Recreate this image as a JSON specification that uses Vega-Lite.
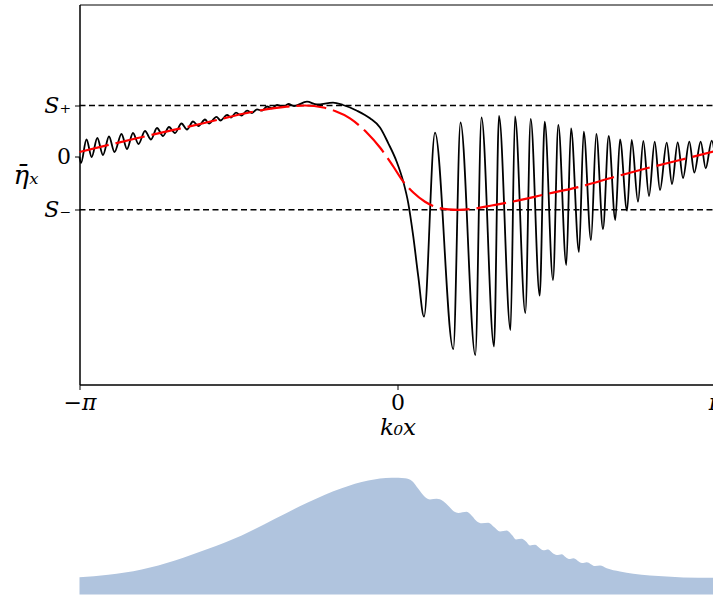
{
  "$schema": "https://vega.github.io/schema/vega-lite/v6.json",
  "autosize": {"type": "none"},
  "padding": {"left": 79.5, "top": 4.5, "right": 634, "bottom": 595},
  "bounds": "flush",
  "spacing": 60,
  "config": {
    "font": "DejaVu Serif",
    "view": {"stroke": null},
    "axis": {
      "grid": false,
      "domainColor": "black",
      "domainWidth": 1,
      "tickColor": "black",
      "tickWidth": 1,
      "tickSize": 5,
      "labelColor": "black",
      "titleColor": "black",
      "labelFont": "DejaVu Serif",
      "titleFont": "DejaVu Serif",
      "labelFontSize": 22,
      "titleFontSize": 23,
      "titleFontWeight": "normal"
    }
  },
  "datasets": {
    "levels": [
      {"level": "S+", "k0x": -3.1415926, "eta": 5.05},
      {"level": "S+", "k0x": 3.1415926, "eta": 5.05},
      {"level": "S-", "k0x": -3.1415926, "eta": -5.38},
      {"level": "S-", "k0x": 3.1415926, "eta": -5.38}
    ],
    "wave": [
      {"k0x": -3.1416, "eta": -0.1}, {"k0x": -3.1268, "eta": -0.7}, {"k0x": -3.0725, "eta": 1.65}, {"k0x": -3.0211, "eta": -0.1},
      {"k0x": -2.9658, "eta": 1.8}, {"k0x": -2.9095, "eta": 0.1}, {"k0x": -2.8502, "eta": 1.95}, {"k0x": -2.7959, "eta": 0.4},
      {"k0x": -2.7267, "eta": 2.2}, {"k0x": -2.6724, "eta": 0.7}, {"k0x": -2.6131, "eta": 2.3}, {"k0x": -2.5588, "eta": 1.2},
      {"k0x": -2.4945, "eta": 2.5}, {"k0x": -2.4353, "eta": 1.65}, {"k0x": -2.376, "eta": 2.8}, {"k0x": -2.3167, "eta": 2.0},
      {"k0x": -2.2574, "eta": 2.9}, {"k0x": -2.1982, "eta": 2.3}, {"k0x": -2.134, "eta": 3.25}, {"k0x": -2.0796, "eta": 2.65},
      {"k0x": -2.0202, "eta": 3.45}, {"k0x": -1.966, "eta": 3.0}, {"k0x": -1.9018, "eta": 3.65}, {"k0x": -1.8623, "eta": 3.25},
      {"k0x": -1.7882, "eta": 3.92}, {"k0x": -1.7487, "eta": 3.55}, {"k0x": -1.6844, "eta": 4.1}, {"k0x": -1.6449, "eta": 3.85},
      {"k0x": -1.5955, "eta": 4.33}, {"k0x": -1.5412, "eta": 4.05}, {"k0x": -1.4868, "eta": 4.53}, {"k0x": -1.4375, "eta": 4.3},
      {"k0x": -1.3881, "eta": 4.67}, {"k0x": -1.3387, "eta": 4.53}, {"k0x": -1.2893, "eta": 4.95}, {"k0x": -1.2399, "eta": 4.77},
      {"k0x": -1.1905, "eta": 5.1}, {"k0x": -1.1312, "eta": 4.93}, {"k0x": -1.0769, "eta": 5.2}, {"k0x": -1.0225, "eta": 5.0},
      {"k0x": -0.8941, "eta": 5.43}, {"k0x": -0.7953, "eta": 5.15}, {"k0x": -0.6372, "eta": 5.33}, {"k0x": -0.5384, "eta": 5.1},
      {"k0x": -0.4001, "eta": 4.53}, {"k0x": -0.2717, "eta": 3.77}, {"k0x": -0.1729, "eta": 2.85}, {"k0x": -0.0909, "eta": 1.27},
      {"k0x": -0.0079, "eta": -0.57}, {"k0x": 0.0573, "eta": -2.57}, {"k0x": 0.1067, "eta": -4.73}, {"k0x": 0.1561, "eta": -8.07},
      {"k0x": 0.2055, "eta": -12.07}, {"k0x": 0.2618, "eta": -16.07}, {"k0x": 0.3705, "eta": 2.33}, {"k0x": 0.5513, "eta": -19.32},
      {"k0x": 0.6224, "eta": 3.35}, {"k0x": 0.7686, "eta": -19.9}, {"k0x": 0.8299, "eta": 3.85}, {"k0x": 0.9534, "eta": -19.05},
      {"k0x": 1.0028, "eta": 4.0}, {"k0x": 1.1164, "eta": -17.4}, {"k0x": 1.1608, "eta": 3.95}, {"k0x": 1.2626, "eta": -15.7},
      {"k0x": 1.3159, "eta": 3.7}, {"k0x": 1.4049, "eta": -13.97}, {"k0x": 1.4543, "eta": 3.43}, {"k0x": 1.5362, "eta": -12.4},
      {"k0x": 1.5886, "eta": 3.1}, {"k0x": 1.6676, "eta": -10.9}, {"k0x": 1.7141, "eta": 2.77}, {"k0x": 1.7931, "eta": -9.6},
      {"k0x": 1.8395, "eta": 2.43}, {"k0x": 1.9117, "eta": -8.4}, {"k0x": 1.964, "eta": 2.2}, {"k0x": 2.0302, "eta": -7.3},
      {"k0x": 2.0865, "eta": 2.0}, {"k0x": 2.1517, "eta": -6.4}, {"k0x": 2.1982, "eta": 1.67}, {"k0x": 2.2673, "eta": -5.47},
      {"k0x": 2.3138, "eta": 1.6}, {"k0x": 2.376, "eta": -4.57}, {"k0x": 2.4284, "eta": 1.5}, {"k0x": 2.4847, "eta": -4.0},
      {"k0x": 2.541, "eta": 1.43}, {"k0x": 2.5933, "eta": -3.4}, {"k0x": 2.6595, "eta": 1.33}, {"k0x": 2.7119, "eta": -2.8},
      {"k0x": 2.7682, "eta": 1.37}, {"k0x": 2.8206, "eta": -2.2}, {"k0x": 2.8828, "eta": 1.43}, {"k0x": 2.9322, "eta": -1.67},
      {"k0x": 2.9954, "eta": 1.43}, {"k0x": 3.0448, "eta": -1.23}, {"k0x": 3.1041, "eta": 1.53}, {"k0x": 3.1416, "eta": -0.4}
    ],
    "mean": [
      {"k0x": -3.1416, "eta": 0.4}, {"k0x": -2.5766, "eta": 1.77}, {"k0x": -1.9186, "eta": 3.27}, {"k0x": -1.4246, "eta": 4.43},
      {"k0x": -1.0946, "eta": 4.93}, {"k0x": -0.9138, "eta": 5.05}, {"k0x": -0.7331, "eta": 4.85}, {"k0x": -0.6175, "eta": 4.5},
      {"k0x": -0.4693, "eta": 3.77}, {"k0x": -0.3043, "eta": 2.35}, {"k0x": -0.1729, "eta": 0.85}, {"k0x": -0.0415, "eta": -1.05},
      {"k0x": 0.0573, "eta": -2.57}, {"k0x": 0.1561, "eta": -3.65}, {"k0x": 0.2717, "eta": -4.57}, {"k0x": 0.3705, "eta": -5.07},
      {"k0x": 0.5019, "eta": -5.33}, {"k0x": 0.6007, "eta": -5.38}, {"k0x": 0.7331, "eta": -5.3}, {"k0x": 0.9306, "eta": -4.95},
      {"k0x": 1.144, "eta": -4.55}, {"k0x": 1.474, "eta": -3.8}, {"k0x": 1.803, "eta": -3.07}, {"k0x": 2.132, "eta": -2.13},
      {"k0x": 2.4619, "eta": -1.23}, {"k0x": 2.7909, "eta": -0.4}, {"k0x": 3.1416, "eta": 0.5}
    ],
    "envelope": [
      {"k0x": -3.1416, "amp": 1.73}, {"k0x": -2.8571, "amp": 1.97}, {"k0x": -2.5272, "amp": 2.5}, {"k0x": -2.1982, "amp": 3.4},
      {"k0x": -1.8692, "amp": 4.57}, {"k0x": -1.5392, "amp": 5.9}, {"k0x": -1.2102, "amp": 7.57}, {"k0x": -0.8812, "amp": 9.23},
      {"k0x": -0.5513, "amp": 10.63}, {"k0x": -0.2885, "amp": 11.4}, {"k0x": -0.0573, "amp": 11.67}, {"k0x": 0.0741, "amp": 11.63},
      {"k0x": 0.1433, "amp": 11.35}, {"k0x": 0.2055, "amp": 10.57}, {"k0x": 0.2717, "amp": 9.75}, {"k0x": 0.3211, "amp": 9.5},
      {"k0x": 0.3873, "amp": 9.57}, {"k0x": 0.4495, "amp": 9.35}, {"k0x": 0.5088, "amp": 8.8}, {"k0x": 0.5582, "amp": 8.3},
      {"k0x": 0.6007, "amp": 8.15}, {"k0x": 0.6837, "amp": 8.27}, {"k0x": 0.736, "amp": 7.85}, {"k0x": 0.7854, "amp": 7.3},
      {"k0x": 0.8318, "amp": 7.12}, {"k0x": 0.897, "amp": 7.17}, {"k0x": 0.9534, "amp": 6.75}, {"k0x": 1.0126, "amp": 6.3},
      {"k0x": 1.0788, "amp": 6.4}, {"k0x": 1.1312, "amp": 5.95}, {"k0x": 1.1707, "amp": 5.5},  {"k0x": 1.227, "amp": 5.57},
      {"k0x": 1.2695, "amp": 5.3}, {"k0x": 1.309, "amp": 4.9}, {"k0x": 1.3584, "amp": 4.97}, {"k0x": 1.4029, "amp": 4.65},
      {"k0x": 1.4404, "amp": 4.42}, {"k0x": 1.4898, "amp": 4.5}, {"k0x": 1.5313, "amp": 4.15}, {"k0x": 1.5728, "amp": 3.95},
      {"k0x": 1.6222, "amp": 4.03}, {"k0x": 1.6597, "amp": 3.75}, {"k0x": 1.6943, "amp": 3.55}, {"k0x": 1.7368, "amp": 3.63},
      {"k0x": 1.8227, "amp": 3.15}, {"k0x": 1.8692, "amp": 3.23}, {"k0x": 1.9512, "amp": 2.85}, {"k0x": 2.0006, "amp": 2.9},
      {"k0x": 2.0667, "amp": 2.63}, {"k0x": 2.1982, "amp": 2.3}, {"k0x": 2.3295, "amp": 2.07}, {"k0x": 2.4945, "amp": 1.9},
      {"k0x": 2.6595, "amp": 1.8}, {"k0x": 2.8235, "amp": 1.7}, {"k0x": 3.1416, "amp": 1.67}
    ]
  },
  "vconcat": [
    {
      "width": 636,
      "height": 380,
      "view": {"stroke": "black", "strokeWidth": 1},
      "encoding": {
        "x": {
          "field": "k0x",
          "type": "quantitative",
          "scale": {"domain": [-3.1415927, 3.1415927], "nice": false, "zero": false},
          "axis": {
            "title": "k₀x",
            "titleFontStyle": "italic",
            "titlePadding": 3,
            "values": [-3.1415926, 0, 3.1415926],
            "labelExpr": "datum.value < -1 ? '−π' : (datum.value > 1 ? 'π' : '0')",
            "labelFontStyle": {"condition": {"test": "datum.value == 0", "value": "normal"}, "value": "italic"},
            "labelFlush": false,
            "labelPadding": 3
          }
        },
        "y": {
          "field": "eta",
          "type": "quantitative",
          "scale": {"domain": [-22.85, 15.15], "nice": false, "zero": false},
          "axis": {
            "title": "η̄ₓ",
            "titleFontSize": 26,
            "titleAngle": 0,
            "titleFontStyle": "italic",
            "titleAlign": "center",
            "titleBaseline": "alphabetic",
            "titleX": -54,
            "titleY": 179,
            "values": [-5.38, 0, 5.05],
            "labelExpr": "datum.value > 1 ? 'S₊' : (datum.value < -1 ? 'S₋' : '0')",
            "labelFontStyle": {"condition": {"test": "datum.value == 0", "value": "normal"}, "value": "italic"},
            "labelPadding": 4
          }
        }
      },
      "layer": [
        {
          "data": {"name": "levels"},
          "mark": {"type": "line", "color": "black", "strokeWidth": 1.5, "strokeDash": [6, 3.5]},
          "encoding": {"detail": {"field": "level", "type": "nominal"}}
        },
        {
          "data": {"name": "wave"},
          "mark": {"type": "line", "color": "black", "strokeWidth": 1.8, "interpolate": "monotone"}
        },
        {
          "data": {"name": "mean"},
          "mark": {"type": "line", "color": "#ff0000", "strokeWidth": 2.2, "strokeDash": [30, 7], "interpolate": "monotone"}
        }
      ]
    },
    {
      "width": 636,
      "height": 150,
      "view": {"stroke": null},
      "data": {"name": "envelope"},
      "mark": {"type": "area", "color": "#b0c4de", "opacity": 1, "interpolate": "monotone"},
      "encoding": {
        "x": {
          "field": "k0x",
          "type": "quantitative",
          "scale": {"domain": [-3.1415927, 3.1415927], "nice": false, "zero": false},
          "axis": null
        },
        "y": {
          "field": "amp",
          "type": "quantitative",
          "scale": {"domain": [0, 15], "nice": false},
          "axis": null
        }
      }
    }
  ]
}
